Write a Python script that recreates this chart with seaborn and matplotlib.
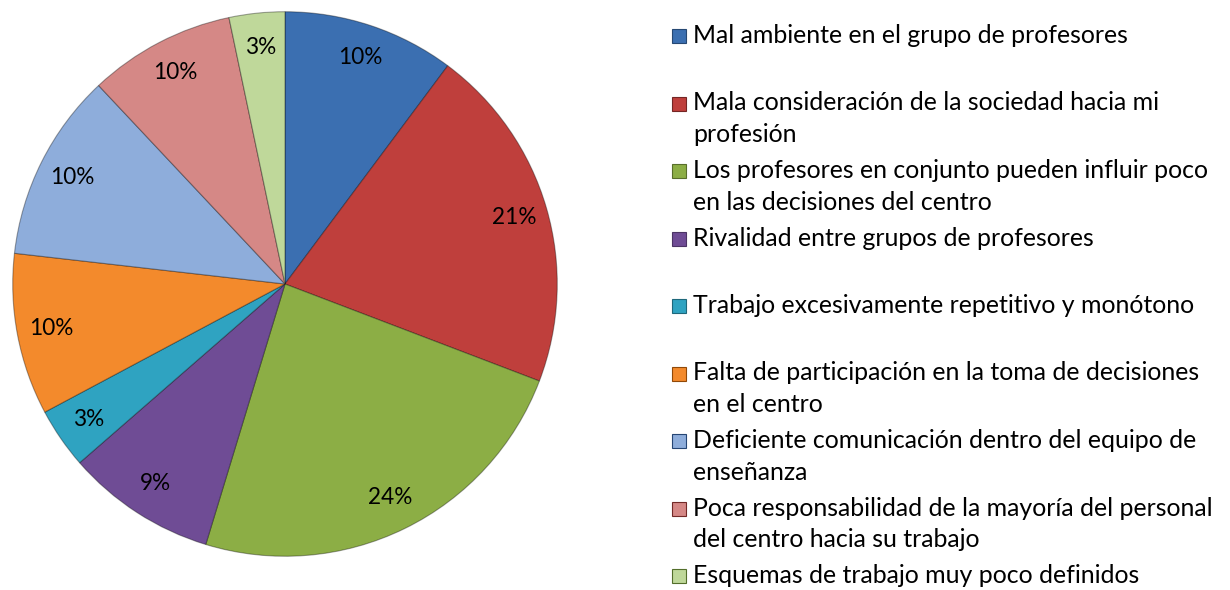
import matplotlib
matplotlib.use("Agg")
import matplotlib.pyplot as plt
from matplotlib.patches import Rectangle
import seaborn as sns

categories = [
    "Mal ambiente en el grupo de profesores",
    "Mala consideración de la sociedad hacia mi\nprofesión",
    "Los profesores en conjunto pueden influir poco\nen las decisiones del centro",
    "Rivalidad entre grupos de profesores",
    "Trabajo excesivamente repetitivo y monótono",
    "Falta de participación en la toma de decisiones\nen el centro",
    "Deficiente comunicación dentro del equipo de\nenseñanza",
    "Poca responsabilidad de la mayoría del personal\ndel centro hacia su trabajo",
    "Esquemas de trabajo muy poco definidos",
]
# share of each slice
shares = [10.2, 20.6, 23.9, 8.9, 3.6, 9.6, 11.2, 8.7, 3.3]
pct_labels = ["10%", "21%", "24%", "9%", "3%", "10%", "10%", "10%", "3%"]
colors = ["#3b6fb1", "#bf3f3c", "#8cae45", "#6f4c95", "#2fa3c1",
          "#f38a2c", "#8eaddb", "#d58886", "#bfd89a"]

sns.set_style("white")
plt.rcParams["font.family"] = ["Lato", "DejaVu Sans"]

W, H = 1230, 590
fig = plt.figure(figsize=(W / 100, H / 100), dpi=100)

# size the text so the widest single line matches the reference width
probe = fig.text(0, 0, "Trabajo excesivamente repetitivo y monótono", fontsize=18)
fig.canvas.draw()
w = probe.get_window_extent(fig.canvas.get_renderer()).width
fs = 18 * 500 / w
probe.remove()
pct_fs = fs / 1.1

ax = fig.add_axes([10 / W, 31 / H, 550 / W, 550 / H])
wedges, _, autotexts = ax.pie(
    shares, colors=colors, startangle=90, counterclock=False,
    radius=1, autopct="%1.0f%%", pctdistance=0.875,
    wedgeprops=dict(edgecolor=(0, 0, 0, 0.35), linewidth=0.8),
    textprops=dict(fontsize=pct_fs, color="black"),
)
for t, lab in zip(autotexts, pct_labels):
    t.set_text(lab)
ax.set_xlim(-1.01, 1.01)
ax.set_ylim(-1.01, 1.01)
ax.set_aspect("equal")
ax.axis("off")

# legend drawn in pixel space
lg = fig.add_axes([0, 0, 1, 1])
lg.set_xlim(0, W)
lg.set_ylim(H, 0)
lg.axis("off")
first_base = 43
step = 67.5
line_h = 31.5
for i, (cat, c) in enumerate(zip(categories, colors)):
    base = first_base + step * i
    lg.add_patch(Rectangle((672, base - 14), 14, 14, facecolor=c,
                           edgecolor=sns.set_hls_values(c, l=0.3), linewidth=0.8))
    for j, line in enumerate(cat.split("\n")):
        lg.text(693, base + line_h * j, line, fontsize=fs, va="baseline",
                ha="left", color="black")

fig.savefig("out.png", dpi=100)
